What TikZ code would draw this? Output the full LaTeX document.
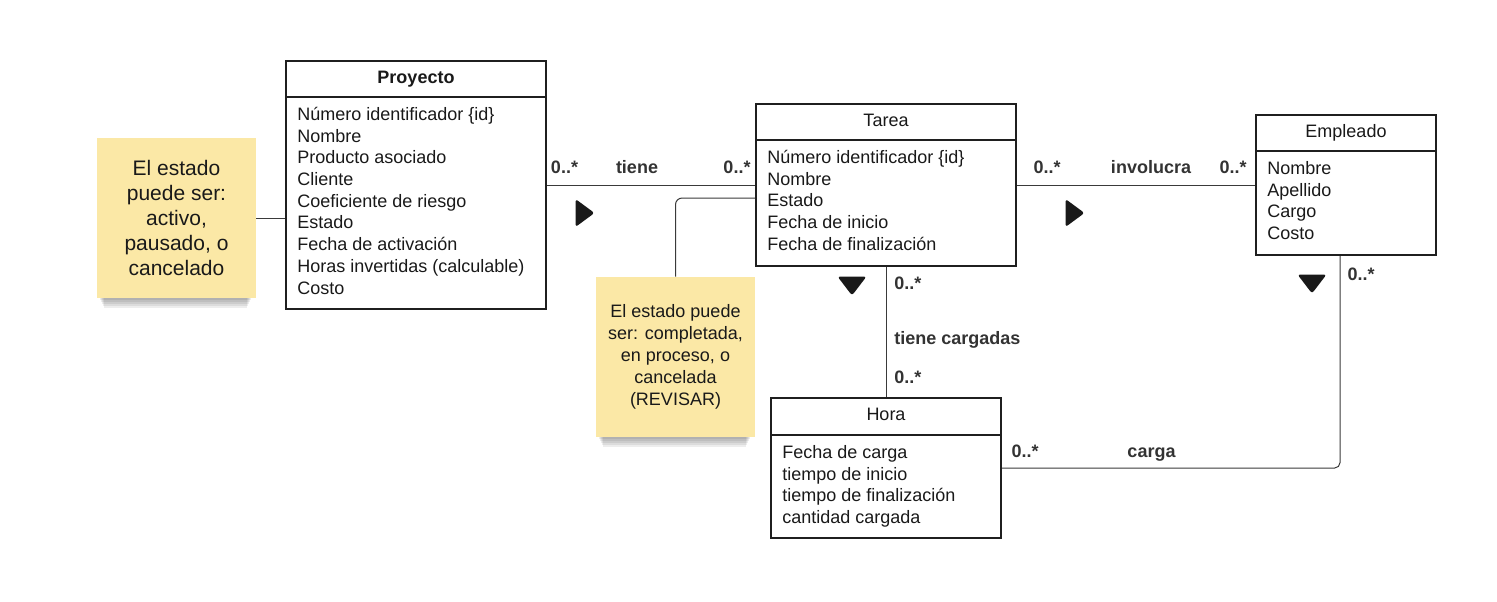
\documentclass[tikz,border=0pt]{standalone}
\usepackage{fontspec}
\setmainfont{Liberation Sans}
\usetikzlibrary{calc,backgrounds}
\definecolor{notefill}{HTML}{FBE8A6}
\definecolor{linegray}{HTML}{3A3A3A}
\definecolor{labelgray}{HTML}{333333}
\tikzset{
  classbox/.style={draw=black!88, line width=1.5pt, inner sep=0pt},
  classline/.style={draw=black!88, line width=1.5pt},
  classtitle/.style={anchor=base, inner sep=0pt, text=black!90, font=\fontsize{13.5}{16}\selectfont},
  attr/.style={anchor=base west, inner sep=0pt, text=black!90, font=\fontsize{13.5}{16}\selectfont},
  note/.style={fill=notefill, inner sep=0pt, align=center, text=black!90, minimum width=119.25pt, minimum height=120pt},
  assoc/.style={draw=linegray, line width=0.75pt},
  notelink/.style={draw=linegray, line width=0.75pt},
  lbl/.style={anchor=base, inner sep=0pt, text=labelgray, font=\fontsize{13.5}{16}\selectfont\bfseries},
}
\begin{document}
\begin{tikzpicture}[x=0.75pt,y=0.75pt,yscale=-1,xscale=1]
\useasboundingbox (0,0) rectangle (1497,601);

%Shape: Class boxes
\node[classbox, minimum width=195pt, minimum height=186pt] (proyecto) at (416,185) {};
\node[classbox, minimum width=195pt, minimum height=121.5pt] (tarea) at (886,185) {};
\node[classbox, minimum width=135pt, minimum height=105pt] (empleado) at (1346,185) {};
\node[classbox, minimum width=172.5pt, minimum height=105pt] (hora) at (886,468) {};

%Header separators
\draw[classline] ($(proyecto.north west)+(0,37)$) -- ($(proyecto.north east)+(0,37)$);
\draw[classline] ($(tarea.north west)+(0,37)$) -- ($(tarea.north east)+(0,37)$);
\draw[classline] ($(empleado.north west)+(0,37)$) -- ($(empleado.north east)+(0,37)$);
\draw[classline] ($(hora.north west)+(0,38)$) -- ($(hora.north east)+(0,38)$);

% Text Node
\node[classtitle, font=\fontsize{13.5}{16}\selectfont\bfseries] (proyecto-t) at ($(proyecto.north)+(0,23.4)$) {Proyecto};
\node[classtitle] (tarea-t) at ($(tarea.north)+(0,23.4)$) {Tarea};
\node[classtitle] (empleado-t) at ($(empleado.north)+(0,23.4)$) {Empleado};
\node[classtitle] (hora-t) at ($(hora.north)+(0,23.4)$) {Hora};

% Attributes
\foreach \a [count=\i from 0] in {Número identificador \{id\}, Nombre, Producto asociado, Cliente, Coeficiente de riesgo, Estado, Fecha de activación, Horas invertidas (calculable), Costo}
  \node[attr] (proyecto-\i) at ($(proyecto.north west)+(12,60.4+21.7*\i)$) {\a};
\foreach \a [count=\i from 0] in {Número identificador \{id\}, Nombre, Estado, Fecha de inicio, Fecha de finalización}
  \node[attr] (tarea-\i) at ($(tarea.north west)+(12,60.4+21.7*\i)$) {\a};
\foreach \a [count=\i from 0] in {Nombre, Apellido, Cargo, Costo}
  \node[attr] (empleado-\i) at ($(empleado.north west)+(12,60.4+21.7*\i)$) {\a};
\foreach \a [count=\i from 0] in {Fecha de carga, tiempo de inicio, tiempo de finalización, cantidad cargada}
  \node[attr] (hora-\i) at ($(hora.north west)+(12,61.4+21.7*\i)$) {\a};

%Shape: Notes
\node[note, font=\fontsize{15.75}{18.75}\selectfont] (nota1) at (176.5,218) {El estado\\puede ser:\\activo,\\pausado, o\\cancelado};
\node[note, font=\fontsize{13.5}{16.5}\selectfont] (nota2) at (675.5,357) {El estado puede\\ser: completada,\\en proceso, o\\cancelada\\(REVISAR)};
\begin{scope}[on background layer]
  \foreach \n in {nota1,nota2}
    \foreach \k in {1,...,5}
      \fill[black, opacity=0.07] ($(\n.south west)+(2+\k,-20)$) rectangle ($(\n.south east)+(-4-\k,2*\k)$);
\end{scope}

%Connectors
\draw[assoc] (proyecto.east) -- (tarea.west);
\draw[assoc] (tarea.east) -- (empleado.west);
\draw[assoc] (tarea.south) -- (hora.north);
\draw[assoc, rounded corners=4pt] (hora.east) -| ($(empleado.south)+(-6,0)$);
\draw[notelink] (nota1.east) -- (proyecto.west |- nota1.east);
\draw[notelink, rounded corners=5pt] (nota2.north) |- ($(tarea.west)+(0,13)$);

% Text Node
\node[lbl] (tiene-a) at (564.5,173.5) {0..*};
\node[lbl] (tiene) at (637,173.5) {tiene};
\node[lbl] (tiene-b) at (737,173.5) {0..*};
\node[lbl] (involucra-a) at (1047,173.5) {0..*};
\node[lbl] (involucra) at (1151,173.5) {involucra};
\node[lbl] (involucra-b) at (1233,173.5) {0..*};
\node[lbl, anchor=base west] (cargadas-a) at (894,289.4) {0..*};
\node[lbl, anchor=base west] (cargadas) at (894,344) {tiene cargadas};
\node[lbl, anchor=base west] (cargadas-b) at (894,383) {0..*};
\node[lbl] (carga-a) at (1025,457.5) {0..*};
\node[lbl] (carga) at (1151.5,457.5) {carga};
\node[lbl] (carga-b) at (1361,280.4) {0..*};

%Shape: reading direction
\foreach \x/\y in {585/213, 1075/213}
  \fill[black!90, rounded corners=2pt] (\x-9.5,\y-14) -- (\x+9.5,\y) -- (\x-9.5,\y+14) -- cycle;
\foreach \x/\y in {852/286, 1312/284}
  \fill[black!90, rounded corners=2pt] (\x-14.5,\y-9.5) -- (\x+14.5,\y-9.5) -- (\x,\y+9.5) -- cycle;

\end{tikzpicture}
\end{document}
